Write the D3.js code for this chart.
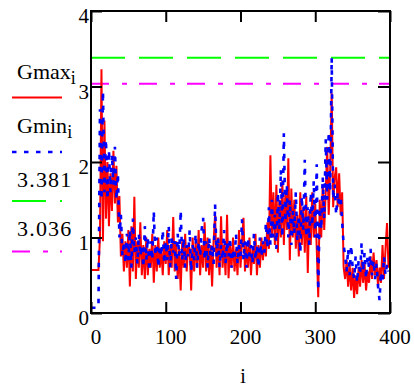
<!DOCTYPE html>
<html>
<head>
<meta charset="utf-8">
<script src="https://cdn.jsdelivr.net/npm/d3@7"></script>
<style>
  body { margin: 0; background: #fff; }
  svg { display: block; }
</style>
</head>
<body>
<div id="chart"></div>
<script>
// Gmax_i / Gmin_i, one value every 2 steps of i
const iStep = 2;
const gmax = [
  0.57,0.57,0.57,0.57,0.57,0.57,1.0,3.23,0.95,2.55,
  1.25,2.0,1.15,1.85,1.35,2.15,1.45,1.95,1.2,1.55,
  0.75,1.05,0.55,0.95,0.6,1.1,0.35,1.15,0.55,1.54,
  0.45,0.95,0.6,1.2,0.5,0.9,0.45,1.0,0.5,0.85,
  0.6,1.05,0.4,0.9,0.55,1.0,0.6,0.85,0.5,0.95,
  0.65,1.1,0.5,0.9,0.6,1.27,0.55,0.95,0.45,0.85,
  0.3,0.95,0.6,1.05,0.55,0.9,0.85,0.3,1.0,0.55,
  0.95,0.6,1.1,0.5,0.9,0.6,1.2,0.55,1.0,0.5,
  0.9,0.35,0.95,1.3,0.6,1.0,0.5,1.28,0.6,0.9,
  0.5,1.3,0.46,0.9,0.6,1.0,0.55,0.85,0.5,1.1,
  0.6,0.95,1.26,0.55,0.9,0.6,1.0,0.5,0.85,0.65,
  1.05,0.5,0.9,0.6,1.0,0.7,0.95,0.75,1.2,0.85,
  2.09,1.0,1.6,0.9,1.7,0.8,1.5,1.0,1.75,0.9,
  1.6,1.1,2.05,0.7,1.65,1.0,1.5,0.85,1.3,0.75,
  1.6,0.9,1.4,0.8,1.55,0.53,1.35,0.9,1.6,1.0,
  1.45,0.85,0.21,1.5,1.0,1.7,1.1,1.6,2.2,1.3,
  1.9,2.91,1.4,1.8,1.93,1.4,1.85,1.3,1.6,0.6,
  0.45,0.7,0.35,0.65,0.3,0.6,0.2,0.5,0.25,0.6,
  0.35,0.7,0.4,0.65,0.3,0.55,0.4,0.75,0.45,0.8,
  0.5,0.7,0.35,0.6,0.4,0.9,0.45,0.85,1.19,0.6
];
const gmin = [
  0.07,0.07,0.07,0.07,0.07,0.07,2.7,1.5,2.94,1.6,
  2.3,1.5,2.16,1.6,2.1,1.7,2.2,1.5,1.85,1.0,
  1.3,0.75,0.95,0.65,1.05,0.7,1.1,0.6,1.25,0.8,
  1.0,0.65,1.05,0.75,0.9,0.6,1.15,0.7,1.0,0.55,
  0.95,0.7,1.35,0.75,1.0,0.6,0.9,0.75,1.1,0.65,
  0.95,0.7,1.15,0.6,1.0,0.8,0.95,0.45,1.05,0.75,
  1.36,0.7,1.0,0.6,0.9,0.75,1.1,0.55,0.9,0.7,
  1.05,0.6,0.95,0.75,1.1,1.26,0.7,0.95,0.6,1.0,
  0.75,0.9,0.65,1.44,0.75,1.0,0.6,0.9,0.7,1.1,
  0.65,0.95,0.75,1.0,0.6,0.85,0.7,1.05,0.65,0.9,
  0.75,1.24,0.7,0.95,0.6,1.0,0.75,0.9,0.65,1.05,
  0.7,0.9,0.6,1.0,0.75,0.95,0.8,1.2,0.85,1.4,
  0.9,1.5,1.0,1.3,0.85,1.6,1.1,1.9,1.0,2.38,
  1.2,1.7,1.0,1.5,0.9,1.35,1.05,1.6,0.95,1.3,
  0.8,1.55,1.1,2.03,1.0,1.4,0.9,1.6,1.15,1.75,
  1.0,1.97,0.3,1.4,1.1,1.8,1.25,2.3,1.5,2.4,
  1.6,3.38,1.5,1.7,1.3,1.6,1.4,1.55,1.2,0.9,
  0.75,0.55,0.85,0.5,0.9,0.6,0.45,0.75,0.4,0.7,
  0.5,0.93,0.55,0.8,0.45,0.75,0.6,0.85,0.5,0.7,
  0.45,0.65,0.35,0.17,0.55,0.4,0.75,0.5,0.65,0.55
];
const levels = [3.381, 3.036];
const xTicks = [0, 100, 200, 300, 400];
const yTicks = [0, 1, 2, 3, 4];
const legendNames = ["Gmax", "Gmin", "3.381", "3.036"];
const legendSubs = ["i", "i", "", ""];

const W = 414, H = 387;
const plot = {left: 91, right: 390, top: 11, bottom: 313};
const serif = "'Liberation Serif', Tinos, 'Times New Roman', Times, 'Noto Serif', 'DejaVu Serif', FreeSerif, serif";

const svg = d3.select("#chart").append("svg")
    .attr("width", W)
    .attr("height", H)
    .attr("font-family", serif);

const x = d3.scaleLinear().domain([0, 400]).range([plot.left, plot.right]);
const y = d3.scaleLinear().domain([0, 4]).range([plot.bottom, plot.top]);

// line styles: red solid, blue dotted, green dashed, magenta dash-dot
const styles = [
    {color: "#ff0000", dash: null, width: 2},
    {color: "#0000ff", dash: "4.5,7.5", width: 2.6},
    {color: "#00ff00", dash: "34,14", width: 2},
    {color: "#ff00ff", dash: "18,13,5,12", width: 2}
];

// horizontal reference levels
levels.forEach((v, k) => {
    svg.append("line")
        .attr("x1", x(0)).attr("x2", x(400))
        .attr("y1", y(v)).attr("y2", y(v))
        .attr("stroke", styles[k + 2].color)
        .attr("stroke-width", styles[k + 2].width)
        .attr("stroke-dasharray", styles[k + 2].dash);
});

const line = d3.line()
    .x((d, k) => x(k * iStep))
    .y(d => y(d));

[gmax, gmin].forEach((series, k) => {
    svg.append("path")
        .datum(series)
        .attr("fill", "none")
        .attr("stroke", styles[k].color)
        .attr("stroke-width", styles[k].width)
        .attr("stroke-dasharray", styles[k].dash)
        .attr("d", line);
});

// frame
svg.append("rect")
    .attr("x", plot.left).attr("y", plot.top)
    .attr("width", plot.right - plot.left)
    .attr("height", plot.bottom - plot.top)
    .attr("fill", "none")
    .attr("stroke", "#000")
    .attr("stroke-width", 2);

// axes with inward ticks
function styleAxis(g) {
    g.attr("font-family", serif);
    g.select(".domain").remove();
    g.selectAll("line").attr("stroke", "#000").attr("stroke-width", 2);
}

svg.append("g")
    .attr("transform", `translate(0,${plot.bottom})`)
    .call(d3.axisBottom(x).tickValues(xTicks).tickFormat(d3.format("d")).tickSize(-11).tickSizeOuter(0))
    .call(styleAxis)
    .call(g => g.selectAll("text")
        .attr("x", 4.5).attr("y", 31).attr("dy", 0)
        .attr("fill", "#000")
        .attr("font-size", 21));

svg.append("g")
    .attr("transform", `translate(0,${plot.top})`)
    .call(d3.axisTop(x).tickValues(xTicks).tickSize(-11).tickFormat(""))
    .call(styleAxis);

svg.append("g")
    .attr("transform", `translate(${plot.left},0)`)
    .call(d3.axisLeft(y).tickValues(yTicks).tickFormat(d3.format("d")).tickSize(-11).tickSizeOuter(0))
    .call(styleAxis)
    .call(g => g.selectAll("text")
        .attr("x", -2).attr("y", 11.5).attr("dy", 0)
        .attr("fill", "#000")
        .attr("font-size", 21));

svg.append("g")
    .attr("transform", `translate(${plot.right},0)`)
    .call(d3.axisRight(y).tickValues(yTicks).tickSize(-12).tickFormat(""))
    .call(styleAxis);

// x axis title
svg.append("text")
    .attr("x", 243)
    .attr("y", 383)
    .attr("text-anchor", "middle")
    .attr("font-size", 20)
    .text("i");

// legend on the left
const legendRows = [
    {text: 79, line: 97.5},
    {text: 133, line: 152},
    {text: 186.5, line: 201},
    {text: 236, line: 251.5}
];

legendNames.forEach((name, k) => {
    const t = svg.append("text")
        .attr("x", 17)
        .attr("y", legendRows[k].text)
        .attr("font-size", 22)
        .attr("letter-spacing", legendSubs[k] ? 0 : 1.2);
    t.append("tspan").text(name);
    if (legendSubs[k]) {
        t.append("tspan")
            .attr("dy", 5)
            .attr("font-size", 18)
            .text(legendSubs[k]);
    }
    svg.append("line")
        .attr("x1", 12).attr("x2", 62)
        .attr("y1", legendRows[k].line).attr("y2", legendRows[k].line)
        .attr("stroke", styles[k].color)
        .attr("stroke-width", styles[k].width)
        .attr("stroke-dasharray", styles[k].dash);
});
</script>
</body>
</html>
